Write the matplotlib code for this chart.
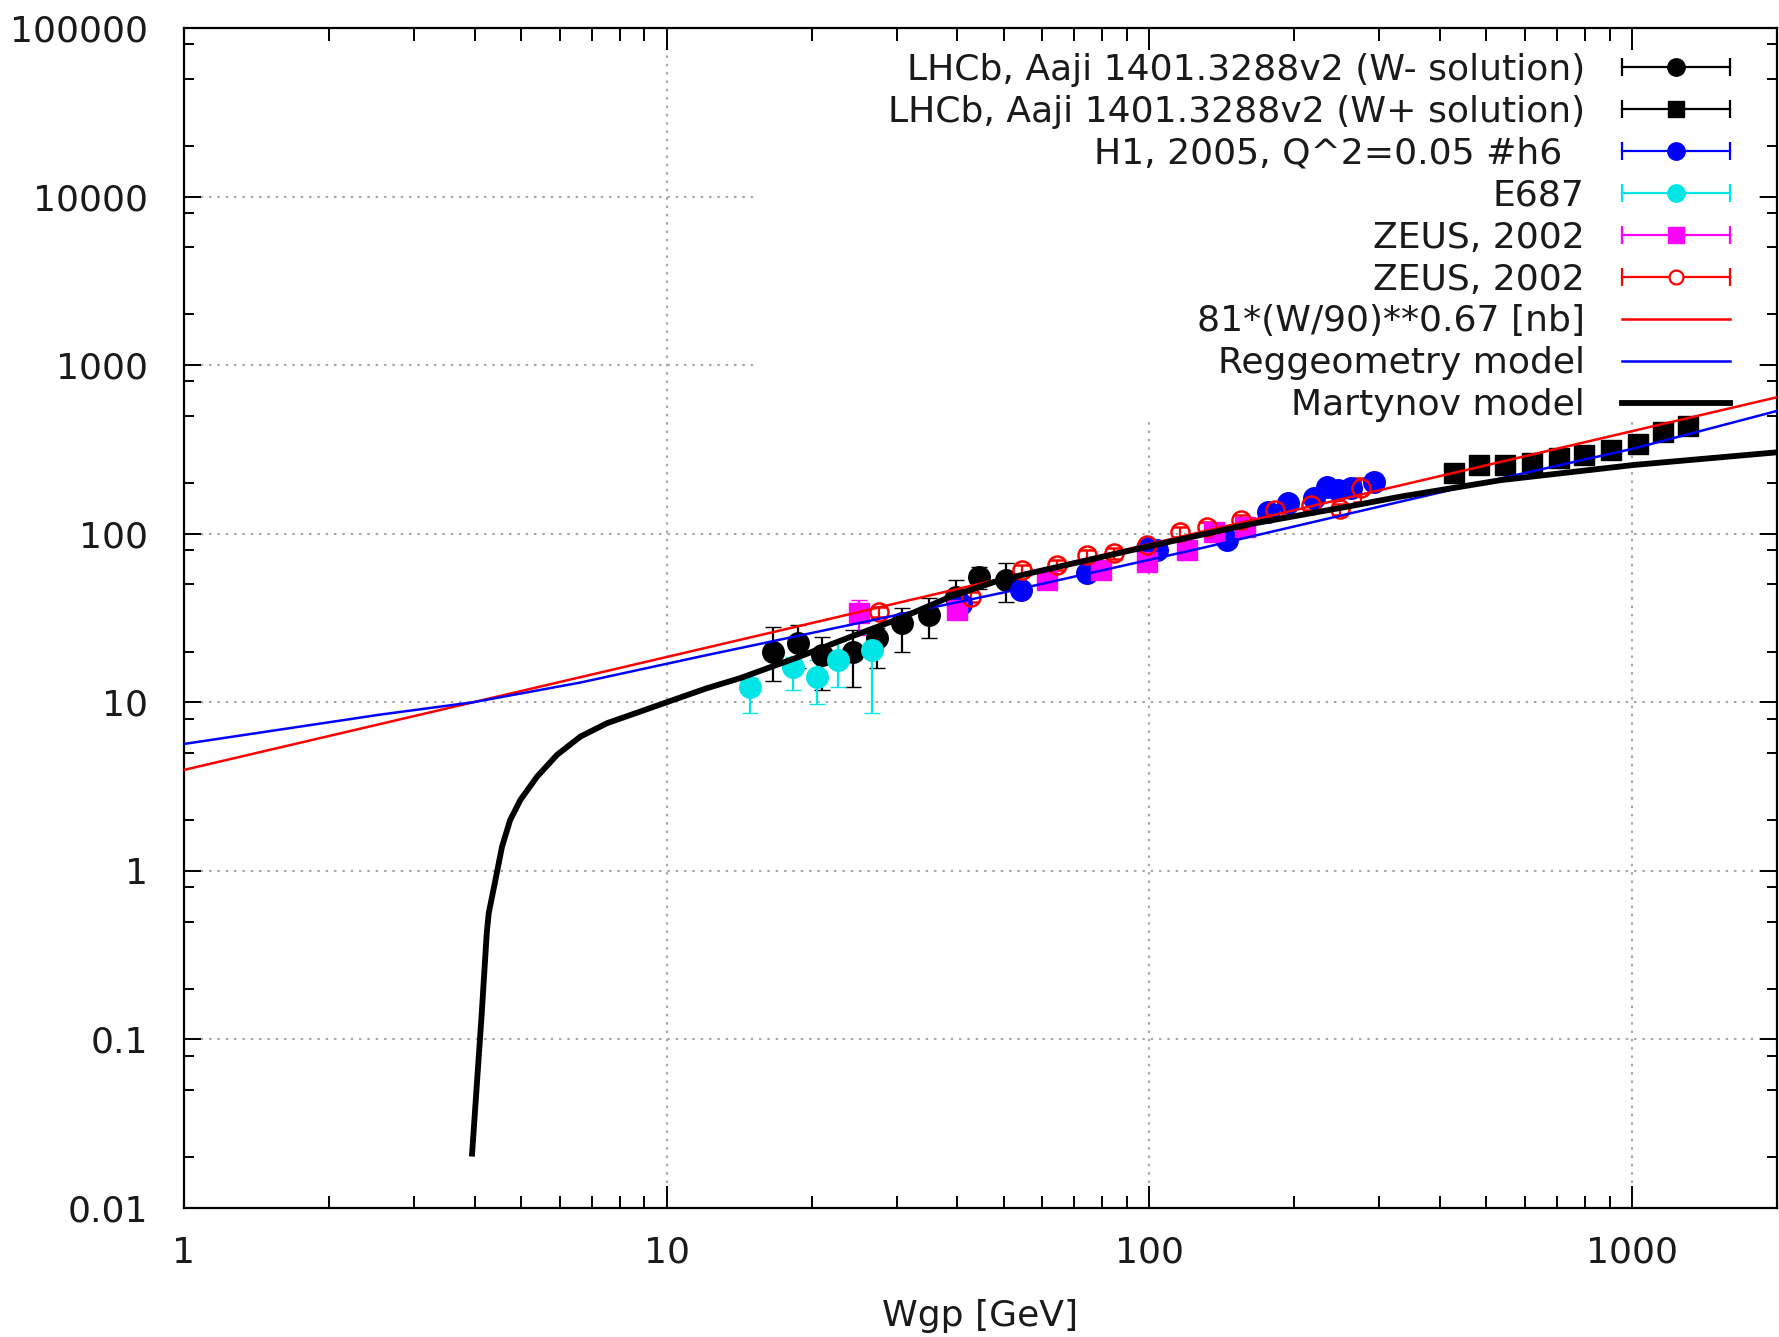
import matplotlib
matplotlib.use('Agg')
import matplotlib.pyplot as plt
from matplotlib.lines import Line2D
from matplotlib.legend_handler import HandlerBase
from matplotlib.patches import Rectangle
from matplotlib.ticker import FixedLocator, FixedFormatter, NullFormatter

# ---------------- data ----------------
lhcb_m_W = [16.6, 18.7, 21.0, 24.3, 27.3, 30.8, 35.0, 39.7, 44.4, 50.6]
lhcb_m_s = [20.0, 22.4, 19.1, 20.0, 24.0, 29.5, 33.0, 42.4, 55.0, 53.2]
lhcb_m_lo = [13.3, 16.0, 11.9, 12.4, 15.9, 20.0, 24.0, 33.0, 47.0, 39.5]
lhcb_m_hi = [28.1, 28.6, 24.5, 27.0, 27.6, 36.1, 41.4, 53.2, 63.8, 66.8]

lhcb_p_W = [429, 483, 546, 621, 708, 798, 906, 1032, 1160, 1311]
lhcb_p_s = [228, 256, 256, 264, 280, 293, 314, 340, 403, 436]
lhcb_p_lo = [212, 238, 238, 246, 260, 272, 292, 316, 375, 405]
lhcb_p_hi = [244, 274, 274, 282, 300, 314, 336, 364, 431, 467]

h1_W = [40.7, 54.2, 74.5, 99.2, 104, 145, 176, 194, 220, 234, 246, 262, 293]
h1_s = [38.4, 46.4, 58.3, 82, 80, 92, 135, 152, 162, 190, 182, 186, 204]
h1_lo = [35.3, 42.7, 53.6, 75.4, 73.6, 84.6, 124, 140, 149, 175, 167, 171, 184]
h1_hi = [41.5, 50.1, 63.0, 88.6, 86.4, 99.4, 146, 164, 175, 205, 197, 201, 226]

e687_W = [14.9, 18.3, 20.5, 22.7, 26.7]
e687_s = [12.4, 16.3, 14.2, 17.9, 20.5]
e687_lo = [8.6, 11.9, 9.8, 12.4, 8.6]
e687_hi = [14.0, 18.5, 17.9, 23.0, 25.5]

zeusm_W = [25.0, 40.0, 61.5, 79.4, 99, 120, 136, 158]
zeusm_s = [33.8, 35.5, 53.2, 61, 68, 80, 103, 110]
zeusm_lo = [25.1, 32.0, 49.0, 56, 62.5, 73.5, 95, 101]
zeusm_hi = [40.5, 39.0, 57.5, 66, 73.5, 86.5, 111, 119]

zeusr_W = [27.6, 42.7, 54.6, 64.5, 74.5, 84.6, 99.2, 116, 132, 155, 182, 216, 248, 275]
zeusr_s = [34.5, 42.4, 61, 65.3, 74.8, 76.6, 85.8, 103, 110, 121, 138, 148, 140, 186]
zeusr_lo = [32.1, 39.4, 56.7, 60.7, 69.6, 71.2, 79.8, 95.8, 102, 113, 128, 138, 130, 155]
zeusr_hi = [36.9, 45.4, 65.3, 69.9, 80.0, 82.0, 91.8, 110, 118, 129, 148, 158, 150, 213]

power_W = [1, 2000]
power_s = [3.97, 645]

regge_W = [1, 2.55, 3.97, 6.63, 11.75, 49.2, 128, 332, 536, 1013, 2000]
regge_s = [5.66, 8.45, 10.0, 13.1, 18.7, 44.4, 82, 155, 213, 321, 535]

mart_W = [3.95, 4.05, 4.14, 4.24, 4.28, 4.42, 4.56, 4.74, 4.98, 5.39, 5.93, 6.63,
          7.53, 8.82, 10.0, 12.1, 14.2, 18.9, 24.1, 30.5, 38.8, 49.2, 99.2, 128,
          162, 262, 332, 536, 1013, 2000]
mart_s = [0.0202, 0.0575, 0.143, 0.427, 0.561, 0.885, 1.39, 2.0, 2.64, 3.62, 4.88,
          6.26, 7.52, 8.81, 10.0, 12.1, 13.9, 18.7, 24.5, 31.5, 42.4, 53.2, 83.9,
          98.4, 114, 146, 166, 208, 256, 304]

labels = ["LHCb, Aaji 1401.3288v2 (W- solution)",
          "LHCb, Aaji 1401.3288v2 (W+ solution)",
          "H1, 2005, Q^2=0.05 #h6  ",
          "E687",
          "ZEUS, 2002",
          "ZEUS, 2002",
          "81*(W/90)**0.67 [nb]",
          "Reggeometry model",
          "Martynov model"]

yticks = [0.01, 0.1, 1, 10, 100, 1000, 10000, 100000]
ytick_labels = ["0.01", "0.1", "1", "10", "100", "1000", "10000", "100000"]
xticks = [1, 10, 100, 1000]
xtick_labels = ["1", "10", "100", "1000"]
xlabel = "Wgp [GeV]"

# ---------------- figure ----------------
plt.rcParams['font.family'] = ['DejaVu Sans']
FS = 26
TXT = '#1a1a1a'
fig = plt.figure(figsize=(17.79, 13.37), dpi=100)
ax = fig.add_axes([184 / 1779, 1 - 1208 / 1337, (1777 - 184) / 1779, (1208 - 28) / 1337])
ax.set_xscale('log')
ax.set_yscale('log')
ax.set_xlim(1, 2000)
ax.set_ylim(0.01, 100000)

CYAN = '#00e6e6'
MS = 15.5
CAP = 6
EW = 1.6


def eb(W, s, lo, hi, color, marker, mfc=None, ms=MS, mew=1.0, z=2):
    yerr = [[si - l for si, l in zip(s, lo)], [h - si for si, h in zip(s, hi)]]
    ax.errorbar(W, s, yerr=yerr, fmt=marker, color=color, ms=ms,
                mfc=color if mfc is None else mfc, mec=color, mew=mew,
                capsize=CAP, elinewidth=EW, capthick=EW, zorder=z)


eb(lhcb_m_W, lhcb_m_s, lhcb_m_lo, lhcb_m_hi, 'black', 'o')
eb(lhcb_p_W, lhcb_p_s, lhcb_p_lo, lhcb_p_hi, 'black', 's', ms=14.5)
eb(h1_W, h1_s, h1_lo, h1_hi, '#0000ff', 'o')
eb(e687_W, e687_s, e687_lo, e687_hi, CYAN, 'o')
eb(zeusm_W, zeusm_s, zeusm_lo, zeusm_hi, '#ff00ff', 's', ms=14.5)
eb(zeusr_W, zeusr_s, zeusr_lo, zeusr_hi, '#ff0000', 'o', mfc='none', ms=13, mew=1.8)

ax.plot(power_W, power_s, color='#ff0000', lw=1.8, zorder=3)
ax.plot(regge_W, regge_s, color='#0000ff', lw=1.8, zorder=3.1)
ax.plot(mart_W, mart_s, color='black', lw=4.2, zorder=3.2, solid_capstyle='butt')

# ticks
ax.xaxis.set_major_locator(FixedLocator(xticks))
ax.xaxis.set_major_formatter(FixedFormatter(xtick_labels))
xminor = [m * 10 ** k for k in range(0, 4) for m in range(2, 10) if m * 10 ** k <= 2000]
ax.xaxis.set_minor_locator(FixedLocator(xminor))
ax.xaxis.set_minor_formatter(NullFormatter())
ax.yaxis.set_major_locator(FixedLocator(yticks))
ax.yaxis.set_major_formatter(FixedFormatter(ytick_labels))
yminor = [m * 10.0 ** k for k in range(-2, 5) for m in (2, 5, 8)]
ax.yaxis.set_minor_locator(FixedLocator(yminor))
ax.yaxis.set_minor_formatter(NullFormatter())

ax.tick_params(axis='both', which='both', direction='in', top=True, right=True,
               width=1.4, color='black', labelcolor=TXT, labelsize=FS)
ax.tick_params(axis='x', which='major', length=16, pad=20)
ax.tick_params(axis='x', which='minor', length=9)
ax.tick_params(axis='y', which='major', length=12, pad=26)
ax.tick_params(axis='y', which='minor', length=7)
for sp in ax.spines.values():
    sp.set_linewidth(1.6)
    sp.set_color('black')

ax.set_axisbelow(True)
ax.grid(True, which='major', color='#a8a8a8', lw=1.5, linestyle=(0, (1.2, 2.8)))

# opaque key area hides the grid
ax.add_patch(Rectangle((0.3585, 0.667), 0.988 - 0.3585, 0.979 - 0.667,
                       transform=ax.transAxes, facecolor='white', edgecolor='none',
                       zorder=0.8))

ax.set_xlabel(xlabel, fontsize=FS, color=TXT, va='center')
ax.xaxis.set_label_coords(0.5, (1208 - 1316) / 1180)


# legend
class HandlerXErr(HandlerBase):
    def create_artists(self, legend, orig_handle, xdescent, ydescent, width,
                       height, fontsize, trans):
        y = height / 2.0 - ydescent
        x0 = -xdescent
        x1 = width - xdescent
        c = orig_handle.get_color()
        lw = orig_handle.get_linewidth()
        base = Line2D([x0, x1], [y, y], color=c, lw=lw)
        caps = Line2D([x0, x1], [y, y], ls='none', marker='|', ms=13, mew=lw, color=c)
        mk = Line2D([(x0 + x1) / 2], [y], ls='none', marker=orig_handle.get_marker(),
                    ms=orig_handle.get_markersize(),
                    mfc=orig_handle.get_markerfacecolor(),
                    mec=orig_handle.get_markeredgecolor(),
                    mew=orig_handle.get_markeredgewidth())
        for a in (base, caps, mk):
            a.set_transform(trans)
        return [base, caps, mk]


err_handles = [
    Line2D([], [], color='black', marker='o', ms=12.5, lw=1.6),
    Line2D([], [], color='black', marker='s', ms=11.5, lw=1.6),
    Line2D([], [], color='#0000ff', marker='o', ms=12.5, lw=1.6),
    Line2D([], [], color=CYAN, marker='o', ms=12.5, lw=1.6),
    Line2D([], [], color='#ff00ff', marker='s', ms=11.5, lw=1.6),
    Line2D([], [], color='#ff0000', marker='o', ms=10, lw=1.6, mfc='white', mew=1.6),
]
line_handles = [
    Line2D([], [], color='#ff0000', lw=1.8),
    Line2D([], [], color='#0000ff', lw=1.8),
    Line2D([], [], color='black', lw=4.2),
]
hmap = {h: HandlerXErr() for h in err_handles}
leg = ax.legend(err_handles + line_handles, labels, handler_map=hmap,
                loc='upper right', bbox_to_anchor=(0.9705, 0.979),
                borderpad=0, borderaxespad=0, frameon=False, markerfirst=False,
                fontsize=FS, handlelength=3.0, handletextpad=1.02,
                labelspacing=0.22, labelcolor=TXT)

fig.savefig('out.png', dpi=100)
